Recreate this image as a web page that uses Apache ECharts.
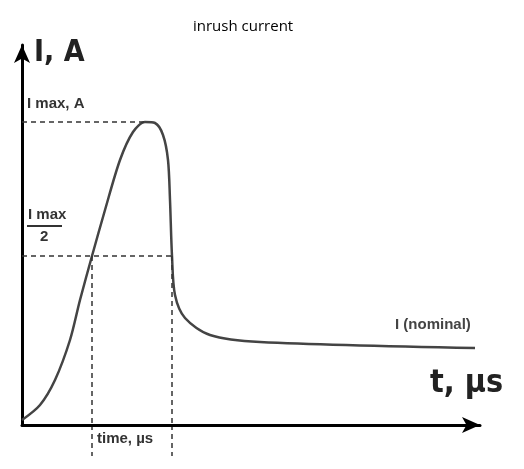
<!DOCTYPE html>
<html>
<head>
<meta charset="utf-8">
<script src="https://cdn.jsdelivr.net/npm/echarts@6/dist/echarts.min.js"></script>
<style>html,body{margin:0;padding:0;background:#fff}#chart{width:524px;height:469px}</style>
</head>
<body>
<div id="chart"></div>
<script>
// schematic curve, x in µs units, y in A units (arbitrary)
const curveX = [0, 18, 33, 48, 58, 70, 83, 98, 111, 123, 133, 141, 146, 148, 150, 153, 163, 188, 238, 453]
const curveY = [5, 20, 45, 85, 125, 169, 215, 265, 293, 303, 302, 290, 265, 225, 169, 130, 107, 90, 83, 77]
const iMax = 303
const iHalf = 169
const tHalfRise = 70
const tHalfFall = 150

const chart = echarts.init(document.getElementById('chart'))
const dash = { color: '#333', type: [5, 4], width: 1.5 }
chart.setOption({
  animation: false,
  title: { text: 'inrush current', left: 188, top: 14, textStyle: { fontFamily: 'Open Sans', fontWeight: 'normal', fontSize: 15, color: '#000' } },
  grid: { left: 22, right: 44, top: 45, bottom: 44 },
  xAxis: {
    type: 'value', min: 0, max: 458,
    axisLine: { lineStyle: { color: '#000', width: 3 }, symbol: ['none', 'arrow'], symbolSize: [12, 18] },
    axisTick: { show: false }, axisLabel: { show: false }, splitLine: { show: false }
  },
  yAxis: {
    type: 'value', min: 0, max: 380,
    axisLine: { show: true, lineStyle: { color: '#000', width: 3 }, symbol: ['none', 'arrow'], symbolSize: [12, 18] },
    axisTick: { show: false }, axisLabel: { show: false }, splitLine: { show: false }
  },
  series: [{
    type: 'line', smooth: 0.3, symbol: 'none',
    lineStyle: { color: '#444', width: 2.5 },
    data: curveX.map((x, i) => [x, curveY[i]]),
    markLine: {
      silent: true, symbol: 'none', label: { show: false }, lineStyle: dash,
      data: [
        [{ coord: [0, iMax] }, { coord: [126, iMax] }],
        [{ coord: [0, iHalf] }, { coord: [tHalfFall, iHalf] }],
        [{ coord: [tHalfRise, iHalf] }, { coord: [tHalfRise, 0] }],
        [{ coord: [tHalfFall, iHalf] }, { coord: [tHalfFall, 0] }]
      ]
    }
  }],
  graphic: [
    { type: 'line', shape: { x1: 92, y1: 425, x2: 92, y2: 456 }, style: { stroke: '#333', lineDash: [5, 4], lineWidth: 1.5 } },
    { type: 'line', shape: { x1: 172, y1: 425, x2: 172, y2: 456 }, style: { stroke: '#333', lineDash: [5, 4], lineWidth: 1.5 } },
    { type: 'text', left: 34, top: 38, style: { text: 'I, A', font: 'bold 30px "Liberation Sans Narrow", "DejaVu Sans Condensed", sans-serif', fill: '#222' } },
    { type: 'text', left: 430, top: 368, style: { text: 't, µs', font: 'bold 32px "Liberation Sans Narrow", "DejaVu Sans Condensed", sans-serif', fill: '#222' } },
    { type: 'text', left: 27, top: 96, style: { text: 'I max, A', font: 'bold 15px "Liberation Sans Narrow", sans-serif', fill: '#333' } },
    { type: 'text', left: 28, top: 207, style: { text: 'I max', font: 'bold 15px "Liberation Sans Narrow", sans-serif', fill: '#333' } },
    { type: 'line', shape: { x1: 27, y1: 226, x2: 62, y2: 226 }, style: { stroke: '#333', lineWidth: 2 } },
    { type: 'text', left: 40, top: 229, style: { text: '2', font: 'bold 15px "Liberation Sans Narrow", sans-serif', fill: '#333' } },
    { type: 'text', left: 395, top: 317, style: { text: 'I (nominal)', font: 'bold 15px "Liberation Sans Narrow", sans-serif', fill: '#444' } },
    { type: 'text', left: 97, top: 431, style: { text: 'time, µs', font: 'bold 15px "Liberation Sans Narrow", sans-serif', fill: '#333' } }
  ]
})
</script>
</body>
</html>
